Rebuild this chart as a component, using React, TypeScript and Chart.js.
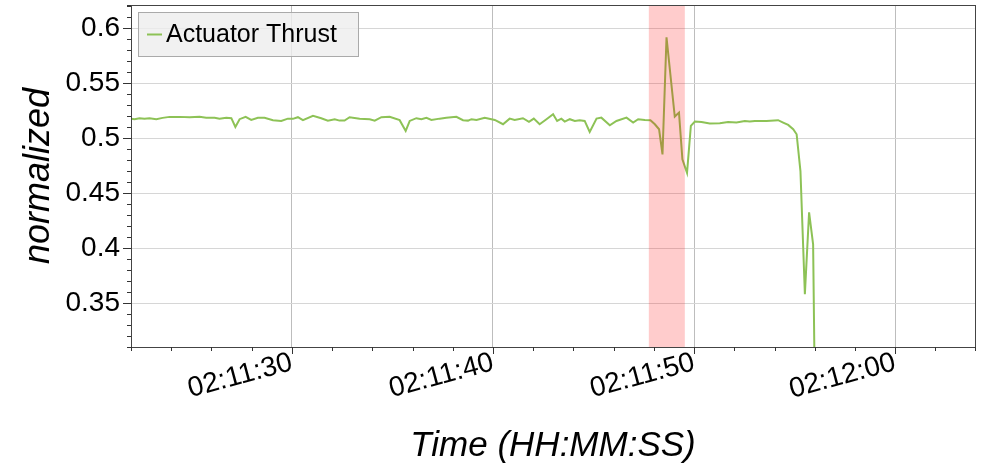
import { useEffect, useRef } from "react";
import { Chart, registerables } from "chart.js";

Chart.register(...registerables);

// Seconds after 02:11:00
const timeSec = [
  21.74, 21.92, 22.16, 22.41, 22.66, 23.0, 23.31, 23.66, 24.15, 24.66, 25.15, 25.48, 25.9, 26.14, 26.48, 26.73,
  26.93, 27.14, 27.44, 27.72, 28.05, 28.38, 28.8, 29.21, 29.54, 29.79, 30.04, 30.29, 30.79, 31.2, 31.53, 31.87,
  32.11, 32.36, 32.61, 33.11, 33.61, 33.86, 34.19, 34.6, 35.1, 35.4, 35.6, 35.93, 36.18, 36.43, 36.68, 37.09,
  37.42, 37.92, 38.25, 38.5, 38.67, 38.92, 39.33, 39.83, 40.24, 40.57, 40.82, 41.23, 41.53, 41.77, 42.06, 42.4,
  42.73, 42.93, 43.14, 43.31, 43.56, 43.81, 44.05, 44.3, 44.55, 44.89, 45.13, 45.55, 45.88, 46.38, 46.71, 46.96,
  47.29, 47.57, 47.79, 48.0, 48.17, 48.37, 48.78, 48.99, 49.16, 49.39, 49.58, 49.78, 50.11, 50.52, 51.02, 51.43,
  51.85, 52.26, 52.51, 52.76, 53.34, 53.92, 54.17, 54.42, 54.67, 54.84, 55.03, 55.25, 55.46, 55.66, 55.85,
];

const thrust = [
  0.5144, 0.5139, 0.5148, 0.5142, 0.5148, 0.5139, 0.5151, 0.516, 0.516, 0.5157, 0.516, 0.5153, 0.5151, 0.5142, 0.5151, 0.5148,
  0.5068, 0.5139, 0.516, 0.5132, 0.5151, 0.5151, 0.513, 0.5123, 0.5144, 0.5142, 0.5157, 0.513, 0.5169, 0.5148, 0.5126, 0.5139,
  0.5126, 0.5126, 0.5157, 0.5144, 0.5139, 0.5126, 0.5157, 0.516, 0.513, 0.5032, 0.5123, 0.5148, 0.5139, 0.5151, 0.5132, 0.5144,
  0.5151, 0.516, 0.513, 0.5126, 0.5139, 0.5132, 0.5151, 0.5132, 0.5093, 0.5144, 0.5132, 0.5148, 0.5114, 0.5144, 0.5093, 0.5139,
  0.5184, 0.5123, 0.5144, 0.5117, 0.5139, 0.5123, 0.513, 0.5123, 0.5023, 0.5144, 0.5153, 0.5084, 0.5123, 0.5153, 0.5108, 0.5139,
  0.5132, 0.513, 0.5093, 0.5047, 0.4819, 0.5884, 0.5163, 0.5199, 0.4774, 0.4651, 0.5078, 0.5117, 0.5114, 0.5099, 0.5102, 0.5114,
  0.5108, 0.5123, 0.5117, 0.5123, 0.5123, 0.513, 0.5108, 0.5087, 0.5047, 0.5002, 0.4667, 0.3546, 0.4292, 0.4, 0.1,
];

const seriesLabel = "Actuator Thrust";
const highlightRange = [47.49, 49.28];
const xRange = [21.74, 63.71];
const yRange = [0.3066, 0.6178];
const xTitle = "Time (HH:MM:SS)";
const yTitle = "normalized";

const FONT = "'Liberation Sans', Arial, sans-serif";
const LINE_COLOR = "rgb(141,194,86)";

function fmtTime(sec: number) {
  const total = 2 * 3600 + 11 * 60 + Math.round(sec);
  const h = Math.floor(total / 3600);
  const m = Math.floor((total % 3600) / 60);
  const s = total % 60;
  const p = (n: number) => String(n).padStart(2, "0");
  return `${p(h)}:${p(m)}:${p(s)}`;
}

const isMajorX = (v: number) => Math.round(v) % 10 === 0;
const isMajorY = (v: number) => Math.round(v * 100) % 5 === 0;

const zeroPad = (s: any) => {
  s.paddingTop = 0;
  s.paddingBottom = 0;
  s.paddingLeft = 0;
  s.paddingRight = 0;
};

const decor = {
  id: "decor",
  afterDatasetsDraw(chart: any) {
    const { ctx, chartArea: a, scales } = chart;
    const x0 = scales.x.getPixelForValue(highlightRange[0]);
    const x1 = scales.x.getPixelForValue(highlightRange[1]);
    ctx.save();
    ctx.fillStyle = "rgba(255,0,0,0.2)";
    ctx.fillRect(x0, a.top, x1 - x0, a.bottom - a.top);
    ctx.restore();
  },
  afterDraw(chart: any) {
    const { ctx, chartArea: a, scales } = chart;
    ctx.save();
    ctx.strokeStyle = "#444";
    ctx.lineWidth = 1;
    ctx.strokeRect(Math.round(a.left) + 0.5, Math.round(a.top) + 0.5, Math.round(a.right - a.left), Math.round(a.bottom - a.top));
    ctx.strokeStyle = "#333";
    ctx.beginPath();
    for (const t of scales.x.ticks) {
      const px = Math.round(scales.x.getPixelForValue(t.value)) + 0.5;
      const len = isMajorX(t.value) ? 7 : 4;
      ctx.moveTo(px, Math.round(a.bottom));
      ctx.lineTo(px, Math.round(a.bottom) + len);
    }
    for (const t of scales.y.ticks) {
      const py = Math.round(scales.y.getPixelForValue(t.value)) + 0.5;
      const len = isMajorY(t.value) ? 8 : 4;
      ctx.moveTo(Math.round(a.left), py);
      ctx.lineTo(Math.round(a.left) - len, py);
    }
    ctx.stroke();
    const lx = 138.5, ly = 12.5, lw = 220, lh = 44;
    ctx.fillStyle = "rgba(238,238,238,0.8)";
    ctx.fillRect(lx, ly, lw, lh);
    ctx.strokeStyle = "#aaaaaa";
    ctx.strokeRect(lx, ly, lw, lh);
    ctx.strokeStyle = LINE_COLOR;
    ctx.lineWidth = 2;
    ctx.beginPath();
    ctx.moveTo(147, 34.5);
    ctx.lineTo(162, 34.5);
    ctx.stroke();
    ctx.fillStyle = "#000";
    ctx.font = `25px ${FONT}`;
    ctx.textBaseline = "middle";
    ctx.textAlign = "left";
    ctx.fillText(seriesLabel, 166, 35);
    ctx.restore();
  },
};

export default function App() {
  const ref = useRef<HTMLCanvasElement | null>(null);
  useEffect(() => {
    if (!ref.current) return;
    const chart = new Chart(ref.current, {
      type: "line",
      data: {
        datasets: [
          {
            label: seriesLabel,
            data: timeSec.map((t, i) => ({ x: t, y: thrust[i] })),
            borderColor: LINE_COLOR,
            backgroundColor: LINE_COLOR,
            borderWidth: 2,
            pointRadius: 0,
            tension: 0,
            fill: false,
          },
        ],
      },
      options: {
        responsive: false,
        animation: false,
        events: [],
        layout: { padding: { top: 5, right: 21, left: 0, bottom: 0 } },
        plugins: { legend: { display: false }, tooltip: { enabled: false } },
        scales: {
          x: {
            type: "linear",
            min: xRange[0],
            max: xRange[1],
            bounds: "data",
            border: { display: false },
            grid: {
              drawTicks: false,
              color: (c: any) => (isMajorX(c.tick.value) ? "#bdbdbd" : "rgba(0,0,0,0)"),
            },
            ticks: {
              stepSize: 2,
              includeBounds: false,
              autoSkip: false,
              minRotation: 15,
              maxRotation: 15,
              padding: -1,
              color: "#000",
              font: { family: FONT, size: 28 },
              callback: (v: any) => (isMajorX(Number(v)) ? fmtTime(Number(v)) : ""),
            },
            title: {
              display: true,
              text: xTitle,
              color: "#000",
              font: { family: FONT, size: 35, style: "italic" },
              padding: { top: 0, bottom: 2 },
            },
            afterFit: (s: any) => {
              s.height = 122;
              zeroPad(s);
            },
          },
          y: {
            type: "linear",
            min: yRange[0],
            max: yRange[1],
            bounds: "data",
            border: { display: false },
            grid: {
              drawTicks: false,
              color: (c: any) => (isMajorY(c.tick.value) ? "#d6d6d6" : "rgba(0,0,0,0)"),
            },
            ticks: {
              stepSize: 0.01,
              includeBounds: false,
              autoSkip: false,
              padding: 11,
              color: "#000",
              font: { family: FONT, size: 28 },
              callback: (v: any) => (isMajorY(Number(v)) ? String(parseFloat(Number(v).toFixed(2))) : ""),
            },
            title: {
              display: true,
              text: yTitle,
              color: "#000",
              font: { family: FONT, size: 36, style: "italic" },
              padding: { top: 17, bottom: 0 },
            },
            afterFit: (s: any) => {
              s.width = 131;
              zeroPad(s);
            },
          },
        },
      },
      plugins: [decor],
    });
    return () => chart.destroy();
  }, []);
  return (
    <div style={{ position: "fixed", left: 0, top: 0, width: 996, height: 469, background: "#fff" }}>
      <canvas ref={ref} width={996} height={469} />
    </div>
  );
}
